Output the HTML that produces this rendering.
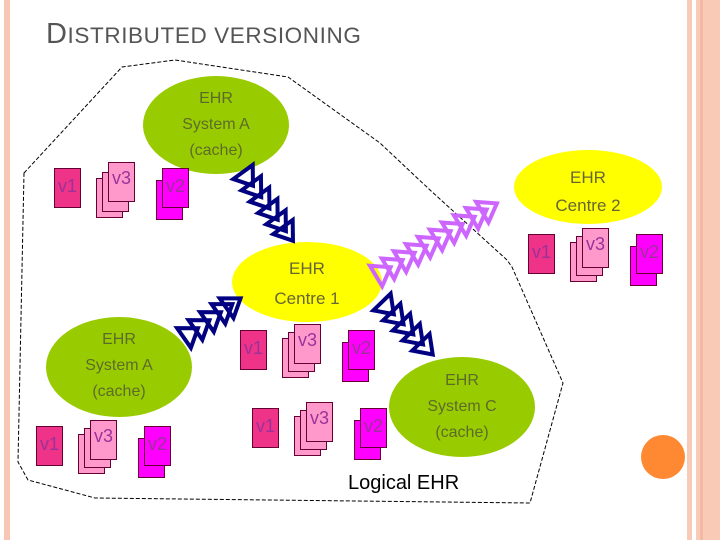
<!DOCTYPE html>
<html><head><meta charset="utf-8"><style>
body{margin:0;width:720px;height:540px;background:#fff;position:relative;overflow:hidden;font-family:"Liberation Sans",sans-serif}
.d{position:absolute;width:27px;height:40px;border:1px solid #660033;box-sizing:border-box;font-size:18px;color:#993399;text-align:center;line-height:34px}
.p1{background:#ee3388}.p3{background:#ff99cc}.p2{background:#ff00ff}
.e{position:absolute;text-align:center;font-size:16px;line-height:26px;color:#5d6b2a}
</style></head><body>
<div style="position:absolute;left:4px;top:0;width:6px;height:540px;background:#f7c6b4"></div>
<div style="position:absolute;left:687px;top:0;width:5px;height:540px;background:#f8cbb9"></div>
<div style="position:absolute;left:696px;top:0;width:24px;height:540px;background:#f9cab6"></div>
<div style="position:absolute;left:700px;top:0;width:3px;height:540px;background:#f4b9a3"></div>
<div style="position:absolute;left:46px;top:18px;color:#555;font-size:22.5px;letter-spacing:0.6px"><span style="font-size:29px">D</span>ISTRIBUTED VERSIONING</div>
<svg width="720" height="540" style="position:absolute;left:0;top:0">
<defs>
<path id="tn" d="M0,-12 L17,0 L0,12 Z" fill="none" stroke="#000080" stroke-width="4"/>
<path id="tv" d="M0,-12 L17,0 L0,12 Z" fill="none" stroke="#cc66ff" stroke-width="4"/>
</defs>
<polygon points="24,173 122,67 175,60 288,77 380,143 430,190 507,260 512,267 563,383 530,503 95,498 28,480 18,462" fill="none" stroke="#000" stroke-width="1" stroke-dasharray="4,2"/>
<ellipse cx="216" cy="125" rx="73" ry="49" fill="#99cc00"/>
<ellipse cx="588" cy="187" rx="74" ry="37" fill="#ffff00"/>
<ellipse cx="307" cy="282" rx="75" ry="40" fill="#ffff00"/>
<ellipse cx="119" cy="367" rx="73" ry="50" fill="#99cc00"/>
<ellipse cx="462" cy="407" rx="73" ry="50" fill="#99cc00"/>
<g transform="translate(243,172) rotate(54)"><use href="#tn" x="0"/><use href="#tn" x="14"/><use href="#tn" x="28"/><use href="#tn" x="42"/><use href="#tn" x="56"/><use href="#tn" x="68"/></g>
<g transform="translate(376,276) rotate(-31)"><use href="#tv" x="0"/><use href="#tv" x="14"/><use href="#tv" x="28"/><use href="#tv" x="42"/><use href="#tv" x="56"/><use href="#tv" x="70"/><use href="#tv" x="84"/><use href="#tv" x="98"/><use href="#tv" x="112"/><use href="#tv" x="124"/></g>
<g transform="translate(184,338) rotate(-35)"><use href="#tn" x="0"/><use href="#tn" x="14"/><use href="#tn" x="28"/><use href="#tn" x="42"/><use href="#tn" x="52"/></g>
<g transform="translate(382,302) rotate(46)"><use href="#tn" x="0"/><use href="#tn" x="14"/><use href="#tn" x="28"/><use href="#tn" x="42"/><use href="#tn" x="56"/></g>
</svg>
<div class="e" style="left:143px;top:86px;width:146px">EHR<br>System A<br>(cache)</div>
<div class="e" style="left:514px;top:164px;width:148px;font-size:17px;color:#666633;line-height:28px">EHR<br>Centre 2</div>
<div class="e" style="left:232px;top:254px;width:150px;font-size:17px;color:#666633;line-height:30px">EHR<br>Centre 1</div>
<div class="e" style="left:46px;top:327px;width:146px">EHR<br>System A<br>(cache)</div>
<div class="e" style="left:389px;top:368px;width:146px">EHR<br>System C<br>(cache)</div>
<div style="position:absolute;left:348px;top:472px;font-size:20px;color:#000">Logical EHR</div>

<div class="d p1" style="left:54px;top:168px">v1</div>
<div class="d p3" style="left:96px;top:178px"></div><div class="d p3" style="left:102px;top:172px"></div><div class="d p3" style="left:108px;top:162px;line-height:30px">v3</div>
<div class="d p2" style="left:156px;top:180px"></div><div class="d p2" style="left:162px;top:168px">v2</div>
<div class="d p1" style="left:528px;top:234px">v1</div>
<div class="d p3" style="left:570px;top:242px"></div><div class="d p3" style="left:576px;top:236px"></div><div class="d p3" style="left:582px;top:228px;line-height:30px">v3</div>
<div class="d p2" style="left:630px;top:246px"></div><div class="d p2" style="left:636px;top:234px">v2</div>
<div class="d p1" style="left:240px;top:330px">v1</div>
<div class="d p3" style="left:282px;top:338px"></div><div class="d p3" style="left:288px;top:332px"></div><div class="d p3" style="left:294px;top:324px;line-height:30px">v3</div>
<div class="d p2" style="left:342px;top:342px"></div><div class="d p2" style="left:348px;top:330px">v2</div>
<div class="d p1" style="left:252px;top:408px">v1</div>
<div class="d p3" style="left:294px;top:416px"></div><div class="d p3" style="left:300px;top:410px"></div><div class="d p3" style="left:306px;top:402px;line-height:30px">v3</div>
<div class="d p2" style="left:354px;top:420px"></div><div class="d p2" style="left:360px;top:408px">v2</div>
<div class="d p1" style="left:36px;top:426px">v1</div>
<div class="d p3" style="left:78px;top:434px"></div><div class="d p3" style="left:84px;top:428px"></div><div class="d p3" style="left:90px;top:420px;line-height:30px">v3</div>
<div class="d p2" style="left:138px;top:438px"></div><div class="d p2" style="left:144px;top:426px">v2</div>

<div style="position:absolute;left:641px;top:435px;width:44px;height:44px;border-radius:50%;background:#ff8833"></div>
</body></html>
